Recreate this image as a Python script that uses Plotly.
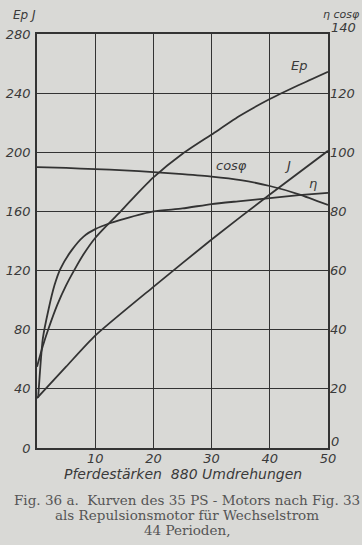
import plotly.graph_objects as go

# Data
ps_ep = [0, 1, 2, 3.5, 5, 6.5, 8, 10, 12, 14, 16.5, 20, 25, 30, 35, 40, 45, 50]
ep = [55, 69, 81, 97, 110, 121, 131, 142, 150.5, 158.5, 169, 183, 199, 212, 225, 236, 245.5, 254.5]

ps_j = [0, 5, 10, 20, 30, 40, 50]
j = [33.7, 55, 76, 109, 141, 171.5, 201]

ps_eta = [0.2, 1, 2, 3, 4, 6, 8, 10, 12.5, 15, 20, 25, 30, 35, 40, 45, 50]
eta = [17, 37, 47, 55, 60.5, 67, 71.5, 74, 76, 77.5, 80, 81, 82.5, 83.5, 84.5, 85.5, 86.3]

ps_cos = [0, 5, 10, 15, 20, 25, 30, 35, 40, 45, 50]
cosphi = [95, 94.7, 94.3, 93.9, 93.3, 92.6, 91.8, 90.6, 88.6, 85.8, 82.2]

x_ticks = [10, 20, 30, 40, 50]
left_ticks = [0, 40, 80, 120, 160, 200, 240, 280]
right_ticks = [20, 40, 60, 80, 100, 120]
right_end_ticks = [0, 140]

caption_lines = [
    "Fig. 36 a.  Kurven des 35 PS - Motors nach Fig. 33",
    "als Repulsionsmotor für Wechselstrom",
    "44 Perioden,",
]

ink = "#333333"
paper = "#d9d9d6"
hand = dict(family="DejaVu Sans", size=13, color="#3a3a3a", style="italic")


def hf(size):
    return dict(family=hand["family"], size=size, color=hand["color"], style="italic")


fig = go.Figure()
line = dict(color=ink, width=1.8, shape="spline", smoothing=0.6)
fig.add_trace(go.Scatter(x=ps_ep, y=ep, mode="lines", line=line, yaxis="y", name="Ep"))
fig.add_trace(go.Scatter(x=ps_j, y=j, mode="lines", line=line, yaxis="y", name="J"))
fig.add_trace(go.Scatter(x=ps_eta, y=eta, mode="lines", line=line, yaxis="y2", name="η"))
fig.add_trace(go.Scatter(x=ps_cos, y=cosphi, mode="lines", line=line, yaxis="y2", name="cosφ"))

fig.update_layout(
    width=362, height=545,
    margin=dict(l=37, r=34, t=34, b=97),
    paper_bgcolor=paper, plot_bgcolor=paper,
    showlegend=False,
    font=hand,
    xaxis=dict(range=[0, 50], tickvals=x_ticks, showgrid=True, gridcolor=ink, gridwidth=1.3,
               showline=True, linecolor=ink, linewidth=1.8, mirror=True, zeroline=False,
               ticks="", tickfont=hf(13), ticklabelstandoff=-3, automargin=False),
    yaxis=dict(range=[0, 280], tickvals=left_ticks, showgrid=True, gridcolor=ink, gridwidth=1.3,
               showline=True, linecolor=ink, linewidth=1.8, mirror=True, zeroline=False,
               ticks="", tickfont=hf(13), ticklabelstandoff=2, automargin=False),
    yaxis2=dict(range=[0, 140], tickvals=right_ticks, overlaying="y", side="right",
                showgrid=False, showline=False, zeroline=False, ticks="", tickfont=hf(13),
                ticklabelstandoff=1, automargin=False),
)

annos = [
    dict(x=0.0, y=1.0, xref="paper", yref="paper", text="Ep J", xanchor="right", yanchor="bottom",
         xshift=1, yshift=10, font=hf(12)),
    dict(x=1.0, y=1.0, xref="paper", yref="paper", text="η cosφ", xanchor="left", yanchor="bottom",
         xshift=-7, yshift=11, font=hf(11)),
    dict(x=45, y=259, text="Ep"),
    dict(x=33.5, y=191, text="cosφ"),
    dict(x=43, y=191, text="J"),
    dict(x=47.5, y=179, text="η"),
    dict(x=0.5, y=0, xref="paper", yref="paper", text="Pferdestärken  880 Umdrehungen",
         yanchor="middle", yshift=-26, font=hf(14)),
]
for v in right_end_ticks:
    annos.append(dict(x=1.0, xref="paper", y=v, yref="y2", text=str(v), xanchor="left",
                      yanchor="middle", xshift=1, yshift=7, font=hf(13)))
for i, t in enumerate(caption_lines):
    annos.append(dict(x=0.5, y=0, xref="paper", yref="paper", text=t, yanchor="middle",
                      yshift=-(52 + 15 * i), xshift=4,
                      font=dict(family="DejaVu Serif", size=13.5, color="#555555", style="normal")))
for a in annos:
    a.setdefault("showarrow", False)
fig.update_layout(annotations=annos)

fig.write_html("out.html", config={"displayModeBar": False},
               post_script="document.body.style.margin='0';")
